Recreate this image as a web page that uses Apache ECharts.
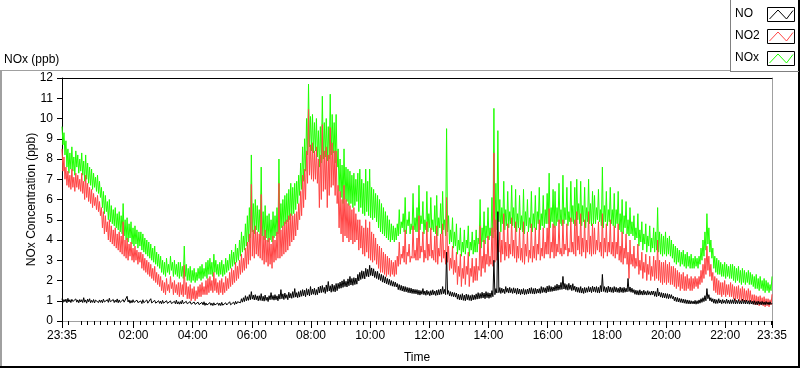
<!DOCTYPE html>
<html>
<head>
<meta charset="utf-8">
<script src="https://cdn.jsdelivr.net/npm/echarts@6/dist/echarts.min.js"></script>
<style>html,body{margin:0;padding:0;background:#fff;}#chart{width:800px;height:369px;}</style>
</head>
<body>
<div id="chart"></div>
<script>
// one reading every 2 minutes over 24 h, starting at 23:35
const spanMinutes = 1440;
const timeTickMinutes = [0,145,265,385,505,625,745,865,985,1105,1225,1345,1440];
const timeTickLabels = ['23:35','02:00','04:00','06:00','08:00','10:00','12:00','14:00','16:00','18:00','20:00','22:00','23:35'];
const yTicks = [0,1,2,3,4,5,6,7,8,9,10,11,12];
const seriesNames = ['NO','NO2','NOx'];

const NO = [
1.10,0.92,1.06,0.95,1.08,0.90,1.12,0.94,1.05,0.91,1.07,0.96,1.03,0.89,1.09,0.93,1.04,0.90,1.06,0.94,
1.05,0.91,1.15,0.93,1.04,0.88,1.08,0.95,1.10,0.90,1.02,0.92,1.06,0.89,1.03,0.94,1.10,0.91,1.04,0.92,
1.03,0.90,1.08,0.94,1.01,0.87,1.05,0.92,1.12,0.95,1.02,0.89,1.06,0.91,1.03,0.93,1.09,0.90,1.04,0.92,
1.00,0.89,1.06,0.93,1.02,0.91,1.22,0.94,1.04,0.88,1.01,0.90,1.05,0.92,0.99,0.87,1.03,0.91,1.00,0.88,
0.99,0.86,1.05,0.90,0.98,0.87,1.04,0.88,0.97,0.85,1.10,0.89,0.98,0.84,1.02,0.88,0.96,0.86,1.00,0.87,
0.98,0.85,1.02,0.88,0.96,0.84,1.00,0.87,0.95,0.83,0.99,0.86,0.94,0.82,0.97,0.85,1.03,0.84,0.95,0.83,
0.96,0.84,1.03,0.86,0.95,0.82,0.97,0.85,0.93,0.81,0.96,0.83,0.92,0.80,0.94,0.82,0.91,0.79,0.93,0.81,
0.90,0.78,0.92,0.80,0.95,0.77,0.89,0.79,0.87,0.75,0.91,0.78,0.88,0.76,0.90,0.79,0.86,0.74,0.89,0.77,
0.88,0.76,0.92,0.78,0.86,0.75,0.90,0.79,0.87,0.76,0.95,0.80,0.89,0.78,0.93,0.81,0.97,0.84,0.95,0.86,
1.02,0.90,1.10,0.93,1.15,0.96,1.25,1.00,1.20,1.02,1.30,1.05,1.45,1.08,1.28,1.04,1.30,1.05,1.24,1.00,
1.25,1.02,1.35,1.00,1.22,0.98,1.28,1.02,1.18,0.96,1.25,1.05,1.40,1.06,1.26,1.03,1.30,1.05,1.24,1.00,
1.32,1.08,1.55,1.10,1.34,1.06,1.38,1.12,1.30,1.05,1.42,1.14,1.36,1.12,1.45,1.16,1.60,1.18,1.40,1.15,
1.45,1.18,1.50,1.22,1.55,1.25,1.52,1.20,1.60,1.28,1.56,1.24,1.70,1.30,1.58,1.32,1.62,1.28,1.55,1.30,
1.68,1.38,1.72,1.40,1.75,1.42,1.66,1.36,1.78,1.45,1.95,1.48,1.74,1.42,1.82,1.46,1.76,1.44,1.85,1.50,
1.86,1.60,1.92,1.62,1.98,1.66,2.05,1.70,1.96,1.68,2.08,1.74,2.20,1.78,2.10,1.76,2.14,1.80,2.12,1.82,
2.30,1.98,2.40,2.05,2.48,2.10,2.45,2.08,2.60,2.20,2.55,2.18,2.75,2.25,2.62,2.22,2.58,2.15,2.45,2.10,
2.45,2.05,2.34,2.00,2.30,1.92,2.24,1.88,2.18,1.84,2.10,1.80,2.06,1.76,2.00,1.72,1.95,1.70,1.92,1.68,
1.85,1.55,1.80,1.52,1.76,1.48,1.72,1.45,1.70,1.44,1.66,1.40,1.64,1.38,1.62,1.36,1.58,1.35,1.56,1.34,
1.55,1.30,1.52,1.28,1.50,1.32,1.60,1.30,1.48,1.27,1.52,1.30,1.46,1.25,1.50,1.28,1.54,1.30,1.48,1.26,
1.52,1.28,1.55,1.30,1.58,1.32,1.70,1.35,1.56,1.30,3.40,1.32,1.50,1.24,1.45,1.22,1.42,1.20,1.40,1.18,
1.38,1.08,1.32,1.05,1.30,1.04,1.35,1.02,1.28,1.00,1.33,1.05,1.30,1.02,1.26,1.00,1.30,1.04,1.28,1.06,
1.34,1.08,1.40,1.10,1.36,1.12,1.42,1.14,1.38,1.10,1.45,1.15,1.40,1.12,1.38,1.16,1.50,1.20,3.00,1.30,
1.60,1.38,5.40,1.40,1.65,1.36,1.62,1.40,1.58,1.35,1.70,1.42,1.62,1.38,1.66,1.40,1.60,1.36,1.64,1.38,
1.60,1.32,1.62,1.34,1.58,1.30,1.56,1.33,1.60,1.30,1.55,1.32,1.58,1.34,1.62,1.36,1.65,1.35,1.60,1.33,
1.62,1.36,1.58,1.38,1.60,1.36,1.70,1.40,1.66,1.42,1.64,1.38,1.72,1.44,1.75,1.45,1.70,1.46,1.68,1.48,
1.75,1.50,1.82,1.52,1.78,1.55,1.90,1.56,2.20,1.58,1.85,1.55,1.80,1.52,1.86,1.56,1.78,1.50,1.84,1.52,
1.72,1.45,1.68,1.42,1.65,1.40,1.70,1.38,1.62,1.36,1.66,1.40,1.64,1.42,1.70,1.44,1.66,1.40,1.72,1.45,
1.68,1.42,1.70,1.40,1.66,1.38,1.75,1.44,2.30,1.46,1.70,1.42,1.66,1.40,1.72,1.44,1.68,1.42,1.65,1.40,
1.70,1.44,1.66,1.42,1.62,1.40,1.68,1.42,1.64,1.40,1.66,1.42,1.62,1.44,2.10,1.46,1.68,1.42,1.62,1.40,
1.55,1.32,1.52,1.30,1.50,1.28,1.54,1.30,1.48,1.28,1.52,1.30,1.46,1.28,1.50,1.30,1.45,1.28,1.48,1.30,
1.48,1.22,1.45,1.20,1.62,1.24,1.42,1.18,1.40,1.15,1.38,1.14,1.36,1.12,1.35,1.10,1.32,1.12,1.30,1.10,
1.22,1.00,1.18,0.96,1.16,0.94,1.12,0.92,1.10,0.90,1.08,0.88,1.06,0.86,1.04,0.85,1.02,0.84,1.00,0.85,
0.98,0.84,1.02,0.83,1.00,0.85,1.04,0.88,1.10,0.92,1.15,0.96,1.25,1.00,1.60,1.10,1.30,1.00,1.15,0.95,
1.10,0.88,1.08,0.86,1.05,0.87,1.10,0.89,1.04,0.85,1.06,0.88,1.02,0.86,1.08,0.87,1.03,0.85,1.05,0.86,
1.05,0.86,1.10,0.84,1.02,0.86,1.06,0.85,1.00,0.84,1.08,0.86,1.03,0.84,1.04,0.85,1.00,0.83,1.02,0.84,
0.98,0.82,1.00,0.81,0.96,0.80,0.98,0.82,0.95,0.80,0.97,0.81,0.94,0.80,0.96,0.82,0.93,0.80,0.95,0.82,
0.88
];

const NO2 = [
8.50,7.40,8.10,7.00,7.60,6.70,7.40,6.60,7.20,6.50,7.50,6.60,7.10,6.40,7.30,6.60,7.20,6.50,7.00,6.40,
7.30,6.30,6.90,6.00,7.20,6.10,6.80,5.90,6.60,5.80,6.50,5.60,6.30,5.70,6.10,5.50,6.20,5.40,5.90,5.20,
5.60,4.60,5.40,4.30,5.20,4.40,4.90,4.00,5.00,3.90,4.70,3.80,4.50,3.70,4.60,3.60,4.30,3.50,4.40,3.40,
4.20,3.30,4.90,3.20,4.00,3.10,4.10,3.00,3.80,3.20,3.90,3.00,3.60,2.90,3.70,3.00,3.50,2.80,3.40,2.90,
3.40,2.60,3.30,2.50,3.10,2.40,3.00,2.30,2.90,2.20,2.80,2.10,2.60,2.00,2.70,1.90,2.40,1.80,2.30,1.70,
2.20,1.50,2.00,1.40,1.90,1.30,2.10,1.50,1.80,1.40,2.20,1.60,1.90,1.30,2.00,1.40,1.80,1.30,1.90,1.20,
1.90,1.30,1.80,1.20,2.75,1.30,1.90,1.10,1.70,1.10,1.80,1.00,1.60,1.10,1.70,1.00,1.50,1.10,1.70,1.20,
1.80,1.20,1.90,1.30,1.70,1.30,2.00,1.30,2.10,1.40,2.20,1.50,2.00,1.40,2.40,1.50,2.10,1.40,1.90,1.30,
2.00,1.40,2.10,1.30,1.90,1.40,2.20,1.50,2.10,1.60,2.40,1.70,2.60,1.80,2.50,1.90,2.90,2.00,2.70,2.10,
3.00,2.30,3.30,2.40,3.10,2.50,3.60,2.60,3.90,2.80,4.30,3.00,6.75,3.20,4.50,3.10,4.70,3.30,4.40,3.20,
4.30,3.10,6.25,3.00,4.20,2.80,4.50,2.90,4.00,2.70,4.10,2.80,3.80,2.60,4.20,2.90,4.00,3.00,4.40,3.10,
6.80,3.10,4.50,3.20,4.70,3.30,4.90,3.40,5.00,3.50,5.20,3.70,5.30,3.90,5.20,4.00,5.30,4.20,5.40,4.50,
5.80,5.00,6.40,5.20,7.20,5.60,7.50,6.00,8.40,6.80,10.45,7.20,8.70,7.00,8.80,6.90,8.40,7.00,8.60,6.80,
8.00,5.60,8.20,6.00,9.70,6.40,8.40,6.50,8.60,5.60,8.20,6.20,9.55,6.60,8.80,6.70,8.40,6.20,8.40,5.80,
6.70,4.60,6.40,4.30,6.00,3.90,6.70,4.20,6.00,4.10,5.80,3.90,5.70,4.00,5.50,3.80,5.60,3.90,5.30,4.00,
5.00,3.50,5.00,3.60,4.70,3.30,4.60,3.20,5.00,3.40,4.60,3.10,4.90,3.00,4.40,2.90,4.30,3.00,4.10,2.80,
3.80,2.60,3.70,2.40,3.60,2.40,3.40,2.30,3.30,2.20,3.20,2.30,3.10,2.20,3.00,2.30,2.90,2.20,3.00,2.30,
3.20,2.70,3.90,2.80,3.30,3.10,3.70,2.90,4.50,2.80,3.40,3.20,3.80,2.90,3.20,3.10,4.70,3.10,3.50,3.00,
4.10,3.00,5.20,3.10,3.70,3.40,4.40,2.90,3.50,3.10,4.90,3.00,3.80,3.20,4.60,3.10,3.50,3.00,4.20,2.90,
4.70,2.80,3.60,3.20,4.30,2.90,4.80,3.10,3.50,2.80,6.10,2.90,3.70,2.50,3.10,2.60,3.70,2.30,3.00,2.40,
3.40,1.80,2.70,2.20,3.30,1.70,2.60,2.10,3.20,1.80,2.70,2.30,3.40,1.70,2.60,2.20,3.10,1.90,2.70,2.00,
3.10,2.00,2.70,2.50,4.70,2.20,3.20,2.60,4.00,2.40,3.30,2.80,4.20,2.70,3.20,2.80,4.60,2.70,8.30,2.90,
5.00,3.00,4.00,3.40,4.40,2.90,4.00,3.30,5.30,3.00,3.90,3.20,4.80,3.10,3.80,3.30,5.10,3.20,4.00,3.10,
4.90,2.90,3.70,3.10,4.60,3.00,3.60,2.90,4.90,2.80,3.80,3.20,4.40,2.90,3.50,3.10,4.80,2.90,3.70,3.10,
4.60,3.00,3.80,3.30,5.00,3.00,3.60,3.20,4.60,3.10,3.90,3.30,4.60,3.30,5.55,3.10,3.90,3.40,4.80,3.10,
4.70,3.20,3.80,3.40,5.00,3.30,3.60,3.20,5.00,3.30,3.80,3.50,4.80,3.20,3.60,3.40,5.10,3.40,3.90,3.30,
5.00,3.20,5.40,3.50,4.20,3.30,5.30,3.20,4.10,3.40,5.00,3.10,4.00,3.40,5.40,3.30,4.20,3.20,4.80,3.30,
4.60,3.30,4.00,3.50,4.90,3.40,3.90,3.20,5.30,3.10,4.10,3.40,4.80,3.20,3.90,3.40,5.00,3.30,3.90,3.20,
4.70,3.10,3.90,3.30,4.80,3.00,3.70,2.90,4.40,2.80,3.60,3.10,4.30,2.80,3.40,2.10,4.00,2.80,3.30,2.70,
3.70,2.60,3.10,2.70,3.80,2.30,3.00,2.50,3.40,2.10,2.90,2.40,3.30,2.00,2.80,2.30,3.20,2.00,2.70,2.20,
3.20,2.00,3.00,2.10,4.00,2.00,3.00,1.90,2.90,1.80,2.90,1.90,3.00,1.80,2.80,1.90,2.90,1.80,2.70,1.80,
2.70,1.70,2.60,1.60,2.50,1.70,2.40,1.50,2.30,1.60,2.40,1.50,2.20,1.50,2.30,1.60,2.10,1.50,2.20,1.50,
2.10,1.60,2.20,1.70,2.10,1.60,2.20,1.80,2.50,1.90,2.80,2.10,3.10,2.30,3.70,2.50,3.20,2.20,2.80,2.00,
2.40,1.50,2.20,1.40,2.10,1.30,2.00,1.30,1.90,1.20,1.90,1.30,2.00,1.20,1.80,1.30,1.80,1.20,1.90,1.20,
1.80,1.10,1.70,1.00,1.70,1.10,1.75,1.00,1.60,1.00,1.70,1.00,1.60,0.95,1.50,1.00,1.60,0.95,1.50,0.95,
1.30,0.85,1.30,0.80,1.25,0.80,1.20,0.75,1.25,0.80,1.15,0.75,1.20,0.70,1.10,0.75,1.10,0.70,1.05,0.80,
1.32
];

const NOx = [
9.60,8.70,9.30,8.20,8.90,7.60,8.50,7.30,8.30,7.50,8.60,7.40,8.10,7.20,8.40,7.60,8.20,7.30,8.00,7.40,
8.30,7.20,7.90,6.90,8.20,7.00,7.80,6.80,7.60,6.70,7.50,6.50,7.30,6.60,7.10,6.40,7.20,6.30,6.90,6.10,
6.60,5.60,6.40,5.30,6.20,5.40,5.90,5.00,6.00,4.90,5.70,4.80,5.50,4.70,5.60,4.60,5.30,4.50,5.40,4.40,
5.20,4.30,5.80,4.20,5.00,4.00,5.10,3.90,4.80,4.10,4.90,3.80,4.60,3.70,4.70,3.80,4.50,3.60,4.40,3.70,
4.40,3.50,4.30,3.40,4.10,3.30,4.00,3.20,3.90,3.10,3.80,3.00,3.60,2.90,3.70,2.80,3.40,2.70,3.30,2.60,
3.20,2.40,3.00,2.30,2.90,2.20,3.10,2.40,2.80,2.30,3.20,2.50,2.90,2.20,3.00,2.30,2.80,2.20,2.90,2.10,
2.90,2.20,2.70,2.10,3.70,2.20,2.80,2.00,2.60,2.00,2.70,1.90,2.50,2.00,2.60,1.90,2.40,2.00,2.60,2.10,
2.70,2.00,2.80,2.10,2.60,2.20,2.90,2.10,3.00,2.30,3.10,2.30,2.90,2.20,3.30,2.40,3.00,2.30,2.80,2.20,
2.90,2.30,3.00,2.20,2.80,2.30,3.10,2.40,3.00,2.50,3.30,2.60,3.50,2.70,3.40,2.80,3.80,2.90,3.60,3.00,
4.00,3.20,4.40,3.40,4.20,3.50,4.80,3.70,5.20,3.90,5.60,4.10,8.20,4.40,5.80,4.30,6.00,4.50,5.70,4.40,
5.50,4.30,7.60,4.20,5.40,4.00,5.70,4.10,5.20,3.90,5.30,4.00,5.00,3.90,5.40,4.10,5.20,4.20,5.60,4.30,
8.00,4.50,5.80,4.60,6.00,4.70,6.20,4.80,6.30,4.90,6.50,5.00,6.80,5.20,6.60,5.30,6.80,5.50,6.90,5.80,
7.20,6.20,7.80,6.50,8.60,6.90,9.00,7.40,10.00,8.20,11.70,8.60,10.10,8.40,10.20,8.30,9.80,8.40,10.00,8.10,
9.40,7.60,9.60,7.80,11.10,8.00,9.80,8.10,10.00,7.90,9.60,8.00,11.20,8.20,10.20,8.30,9.80,7.80,10.20,7.60,
8.50,6.40,8.00,6.10,7.70,5.80,8.50,6.00,7.60,5.90,7.50,5.70,7.40,5.80,7.20,5.60,7.30,5.70,7.00,5.90,
7.30,5.40,7.50,5.60,7.00,5.30,6.80,5.20,7.50,5.40,6.90,5.20,7.50,5.10,6.60,5.00,6.50,5.10,6.30,4.90,
6.20,4.60,6.00,4.40,5.80,4.30,5.60,4.20,5.40,4.10,5.20,4.00,5.00,3.90,4.80,4.00,4.70,3.90,4.60,4.00,
4.80,4.20,5.50,4.30,4.90,4.60,5.30,4.40,6.10,4.30,5.00,4.70,5.40,4.30,4.80,4.50,6.30,4.50,5.10,4.40,
5.60,4.40,6.70,4.50,5.20,4.80,5.90,4.30,5.00,4.50,6.40,4.40,5.30,4.60,6.10,4.50,5.00,4.40,5.70,4.30,
6.20,4.20,5.10,4.60,5.80,4.30,6.40,4.50,5.00,4.20,9.50,4.40,5.20,3.80,4.50,3.90,5.10,3.60,4.40,3.70,
4.80,3.30,4.00,3.50,4.60,3.20,3.90,3.40,4.50,3.30,4.00,3.60,4.70,3.20,3.90,3.50,4.40,3.30,4.00,3.40,
4.50,3.40,4.10,3.80,6.00,3.60,4.60,3.90,5.40,3.80,4.70,4.10,5.60,4.00,4.60,4.20,6.10,4.10,10.50,4.40,
6.80,4.50,9.40,4.90,6.00,4.40,5.60,4.80,6.90,4.50,5.50,4.70,6.40,4.60,5.40,4.80,6.70,4.70,5.60,4.60,
6.50,4.40,5.30,4.60,6.20,4.50,5.20,4.40,6.50,4.30,5.40,4.70,6.00,4.40,5.10,4.60,6.40,4.40,5.30,4.60,
6.20,4.50,5.40,4.80,6.60,4.50,5.30,4.70,6.20,4.60,5.50,4.80,6.30,4.80,7.30,4.60,5.60,4.90,6.50,4.60,
6.40,4.70,5.60,4.90,6.80,4.80,5.50,4.70,7.20,4.80,5.60,5.00,6.60,4.70,5.40,4.90,6.90,4.90,5.70,4.80,
6.60,4.70,7.00,5.00,5.80,4.80,6.90,4.70,5.70,4.90,6.60,4.60,5.60,4.90,7.00,4.80,5.80,4.70,6.40,4.80,
6.20,4.80,5.60,5.00,6.50,4.90,5.50,4.70,7.60,4.60,5.70,4.90,6.40,4.70,5.50,4.90,6.60,4.80,5.50,4.70,
6.30,4.60,5.50,4.80,6.40,4.50,5.30,4.40,6.00,4.30,5.20,4.60,5.90,4.30,5.00,4.20,5.60,4.30,4.90,4.20,
5.20,4.00,4.60,4.10,5.30,3.70,4.50,3.90,4.90,3.50,4.30,3.80,4.80,3.40,4.20,3.70,4.70,3.40,4.10,3.60,
4.60,3.40,4.40,3.50,5.60,3.40,4.40,3.30,4.30,3.20,4.20,3.30,4.40,3.20,4.10,3.30,4.20,3.20,4.00,3.10,
3.80,2.90,3.70,2.80,3.60,2.90,3.50,2.70,3.40,2.80,3.50,2.70,3.30,2.60,3.40,2.70,3.20,2.60,3.30,2.60,
3.10,2.60,3.20,2.70,3.10,2.60,3.20,2.80,3.60,3.00,4.00,3.20,4.40,3.50,5.30,3.80,4.60,3.40,4.00,3.10,
3.60,2.60,3.20,2.40,3.10,2.30,3.00,2.30,2.90,2.20,2.80,2.20,2.90,2.10,2.80,2.20,2.70,2.10,2.80,2.10,
2.80,2.00,2.70,1.90,2.60,2.00,2.70,1.90,2.50,1.80,2.60,1.90,2.50,1.80,2.40,1.90,2.50,1.80,2.40,1.80,
2.30,1.70,2.20,1.60,2.30,1.60,2.10,1.50,2.20,1.60,2.00,1.50,2.10,1.40,2.00,1.50,1.90,1.40,1.80,1.50,
2.20
];

// spread each reading evenly over the 24-hour span
function pairs(arr){ const step = spanMinutes / (arr.length - 1); return arr.map((v,i)=>[i*step, v]); }

// minor ticks: 9 subdivisions of each 2-hour major step
const minorTicks = [];
for (let k = -20; k <= 200; k++) {
  const t = 145 + k * 120 / 9;
  if (t > 0.5 && t < 1439.5 && k % 9 !== 0) minorTicks.push(t);
}

const FONT = 'Liberation Sans';
const chart = echarts.init(document.getElementById('chart'), null, {renderer:'canvas'});

function legendItem(idx, color) {
  const by = 7 + idx * 22;
  return [
    {type:'text', left:735, top: by + 1, style:{text: seriesNames[idx], font:'12px "' + FONT + '"', fill:'#000'}},
    {type:'rect', shape:{x:767.5, y:by+0.5, width:27, height:14}, style:{fill:'#fff', stroke:'#000', lineWidth:1}},
    {type:'polyline', shape:{points:[[769.5,by+12],[778,by+3],[786.5,by+12],[793,by+3.5]]}, style:{stroke:color, lineWidth:1, fill:null}}
  ];
}

const option = {
  animation:false,
  backgroundColor:'#fff',
  textStyle:{fontFamily:FONT},
  title:{text:'NOx (ppb)', left:4, top:54, textStyle:{fontSize:12, fontWeight:'normal', color:'#000', fontFamily:FONT}, padding:0},
  grid:{left:62, right:28, top:78, bottom:40, containLabel:false},
  xAxis:[
    {type:'value', min:0, max:spanMinutes, position:'bottom',
     name:'Time', nameLocation:'middle', nameGap:31, nameMoveOverlap:false,
     nameTextStyle:{fontSize:12, color:'#000', fontFamily:FONT},
     axisLine:{show:true, onZero:false, lineStyle:{color:'#a0a0a0', width:1}},
     axisTick:{show:true, length:7, inside:false, customValues:timeTickMinutes, lineStyle:{color:'#000'}},
     axisLabel:{show:true, margin:9, fontSize:12, color:'#000', fontFamily:FONT, customValues:timeTickMinutes,
       formatter:function(v){ const j = timeTickMinutes.indexOf(Math.round(v)); return j>=0 ? timeTickLabels[j] : ''; }},
     splitLine:{show:false}},
    {type:'value', min:0, max:spanMinutes, position:'top',
     axisLine:{show:true, onZero:false, lineStyle:{color:'#000', width:1}},
     axisTick:{show:false}, axisLabel:{show:false}, splitLine:{show:false}},
    {type:'value', min:0, max:spanMinutes, position:'bottom',
     axisLine:{show:false, onZero:false},
     axisTick:{show:true, length:4, customValues:minorTicks, lineStyle:{color:'#000'}},
     axisLabel:{show:false}, splitLine:{show:false}}
  ],
  yAxis:[
    {type:'value', min:0, max:12, interval:1, position:'left',
     name:'NOx Concentration (ppb)', nameLocation:'middle', nameGap:24, nameRotate:90, nameMoveOverlap:false,
     nameTextStyle:{fontSize:12, color:'#000', fontFamily:FONT},
     axisLine:{show:true, onZero:false, lineStyle:{color:'#000', width:1}},
     axisTick:{show:true, length:5, lineStyle:{color:'#000'}},
     axisLabel:{show:true, margin:9, fontSize:12, color:'#000', fontFamily:FONT, customValues:yTicks},
     splitLine:{show:false}},
    {type:'value', min:0, max:12, interval:1, position:'right',
     axisLine:{show:true, onZero:false, lineStyle:{color:'#a0a0a0', width:1}},
     axisTick:{show:false}, axisLabel:{show:false}, splitLine:{show:false}}
  ],
  series:[
    {name:'NOx', type:'line', xAxisIndex:0, yAxisIndex:0, data:pairs(NOx), showSymbol:false, symbol:'none',
     lineStyle:{color:'#1eff00', width:1}, itemStyle:{color:'#1eff00'}, z:2},
    {name:'NO2', type:'line', xAxisIndex:0, yAxisIndex:0, data:pairs(NO2), showSymbol:false, symbol:'none',
     lineStyle:{color:'#ff4545', width:1}, itemStyle:{color:'#ff4545'}, z:3},
    {name:'NO', type:'line', xAxisIndex:0, yAxisIndex:0, data:pairs(NO), showSymbol:false, symbol:'none',
     lineStyle:{color:'#000000', width:1}, itemStyle:{color:'#000'}, z:4}
  ],
  graphic:[
    {type:'line', shape:{x1:0, y1:70.5, x2:730, y2:70.5}, style:{stroke:'#a0a0a0', lineWidth:1}},
    {type:'line', shape:{x1:1, y1:70, x2:1, y2:367}, style:{stroke:'#a0a0a0', lineWidth:2}},
    {type:'line', shape:{x1:0, y1:367, x2:800, y2:367}, style:{stroke:'#000', lineWidth:2}},
    {type:'line', shape:{x1:799, y1:0, x2:799, y2:368}, style:{stroke:'#000', lineWidth:2}},
    {type:'line', shape:{x1:730.5, y1:0, x2:730.5, y2:72}, style:{stroke:'#808080', lineWidth:1}},
    {type:'line', shape:{x1:730, y1:71.5, x2:799, y2:71.5}, style:{stroke:'#808080', lineWidth:1}}
  ].concat(legendItem(0,'#000'), legendItem(1,'#ff4545'), legendItem(2,'#1eff00'))
};
chart.setOption(option);
</script>
</body>
</html>
